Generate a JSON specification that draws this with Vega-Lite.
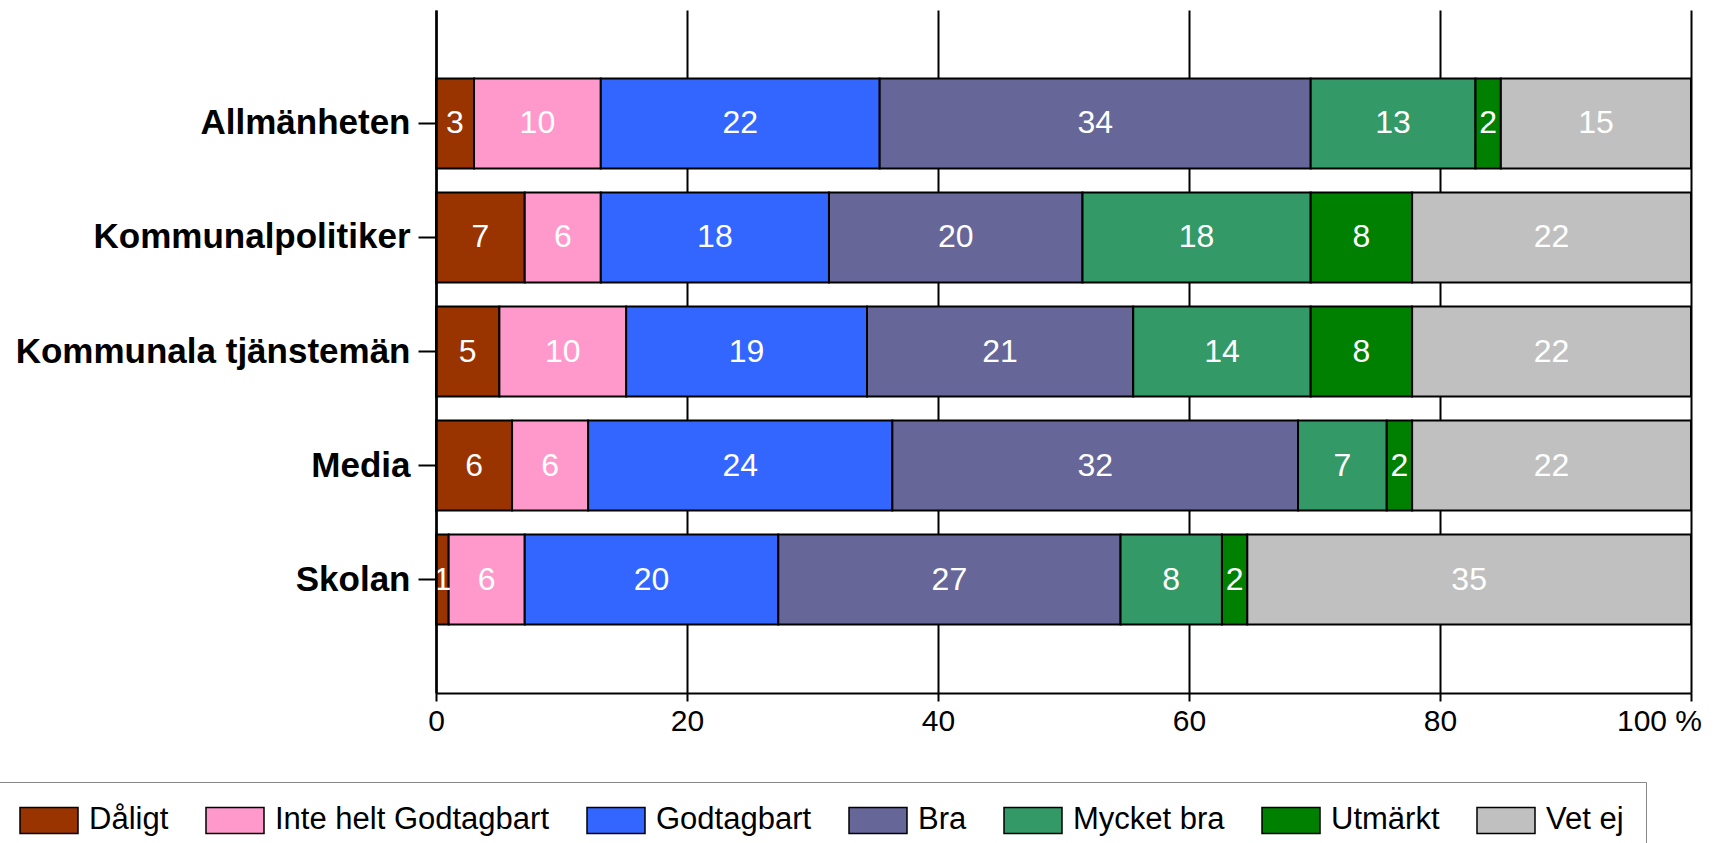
{
  "$schema": "https://vega.github.io/schema/vega-lite/v6.json",
  "autosize": "none",
  "width": 1255,
  "height": 683,
  "padding": {"left": 436, "top": 10, "right": 24, "bottom": 150},
  "background": "white",
  "config": {
    "view": {"stroke": null},
    "font": "Liberation Sans"
  },
  "data": {
    "values": [
      {"g": "Allmänheten", "c": "Dåligt", "v": 3, "k": 1},
      {"g": "Allmänheten", "c": "Inte helt Godtagbart", "v": 10, "k": 2},
      {"g": "Allmänheten", "c": "Godtagbart", "v": 22, "k": 3},
      {"g": "Allmänheten", "c": "Bra", "v": 34, "k": 4},
      {"g": "Allmänheten", "c": "Mycket bra", "v": 13, "k": 5},
      {"g": "Allmänheten", "c": "Utmärkt", "v": 2, "k": 6},
      {"g": "Allmänheten", "c": "Vet ej", "v": 15, "k": 7},
      {"g": "Kommunalpolitiker", "c": "Dåligt", "v": 7, "k": 1},
      {"g": "Kommunalpolitiker", "c": "Inte helt Godtagbart", "v": 6, "k": 2},
      {"g": "Kommunalpolitiker", "c": "Godtagbart", "v": 18, "k": 3},
      {"g": "Kommunalpolitiker", "c": "Bra", "v": 20, "k": 4},
      {"g": "Kommunalpolitiker", "c": "Mycket bra", "v": 18, "k": 5},
      {"g": "Kommunalpolitiker", "c": "Utmärkt", "v": 8, "k": 6},
      {"g": "Kommunalpolitiker", "c": "Vet ej", "v": 22, "k": 7},
      {"g": "Kommunala tjänstemän", "c": "Dåligt", "v": 5, "k": 1},
      {"g": "Kommunala tjänstemän", "c": "Inte helt Godtagbart", "v": 10, "k": 2},
      {"g": "Kommunala tjänstemän", "c": "Godtagbart", "v": 19, "k": 3},
      {"g": "Kommunala tjänstemän", "c": "Bra", "v": 21, "k": 4},
      {"g": "Kommunala tjänstemän", "c": "Mycket bra", "v": 14, "k": 5},
      {"g": "Kommunala tjänstemän", "c": "Utmärkt", "v": 8, "k": 6},
      {"g": "Kommunala tjänstemän", "c": "Vet ej", "v": 22, "k": 7},
      {"g": "Media", "c": "Dåligt", "v": 6, "k": 1},
      {"g": "Media", "c": "Inte helt Godtagbart", "v": 6, "k": 2},
      {"g": "Media", "c": "Godtagbart", "v": 24, "k": 3},
      {"g": "Media", "c": "Bra", "v": 32, "k": 4},
      {"g": "Media", "c": "Mycket bra", "v": 7, "k": 5},
      {"g": "Media", "c": "Utmärkt", "v": 2, "k": 6},
      {"g": "Media", "c": "Vet ej", "v": 22, "k": 7},
      {"g": "Skolan", "c": "Dåligt", "v": 1, "k": 1},
      {"g": "Skolan", "c": "Inte helt Godtagbart", "v": 6, "k": 2},
      {"g": "Skolan", "c": "Godtagbart", "v": 20, "k": 3},
      {"g": "Skolan", "c": "Bra", "v": 27, "k": 4},
      {"g": "Skolan", "c": "Mycket bra", "v": 8, "k": 5},
      {"g": "Skolan", "c": "Utmärkt", "v": 2, "k": 6},
      {"g": "Skolan", "c": "Vet ej", "v": 35, "k": 7}
    ]
  },
  "encoding": {
    "y": {
      "field": "g",
      "type": "nominal",
      "sort": ["Allmänheten", "Kommunalpolitiker", "Kommunala tjänstemän", "Media", "Skolan"],
      "scale": {"paddingInner": 0.21, "paddingOuter": 0.6},
      "axis": {
        "title": null,
        "labelFont": "Liberation Sans",
        "labelFontSize": 35,
        "labelFontWeight": "bold",
        "labelColor": "black",
        "labelLimit": 0,
        "labelPadding": 8,
        "tickSize": 18,
        "tickColor": "black",
        "tickWidth": 2,
        "domainColor": "black",
        "domainWidth": 2.5,
        "grid": false,
        "zindex": 1
      }
    },
    "x": {
      "field": "v",
      "type": "quantitative",
      "stack": "normalize",
      "scale": {"domain": [0, 1], "nice": false},
      "axis": {
        "title": null,
        "values": [0, 0.2, 0.4, 0.6, 0.8, 1],
        "labelExpr": "datum.value == 1 ? '100 %' : format(datum.value * 100, 'd')",
        "labelFont": "Liberation Sans",
        "labelFontSize": 30,
        "labelColor": "black",
        "labelPadding": 5,
        "labelFlush": false,
        "labelOffset": {"condition": {"test": "datum.value == 1", "value": -32}, "value": 0},
        "tickSize": 8,
        "tickColor": "black",
        "tickWidth": 2,
        "domainColor": "black",
        "domainWidth": 2,
        "grid": true,
        "gridColor": "black",
        "gridWidth": 2,
        "gridOpacity": 1
      }
    },
    "order": {"field": "k", "type": "quantitative"}
  },
  "layer": [
    {
      "mark": {"type": "bar", "stroke": "black", "strokeWidth": 2, "opacity": 1},
      "encoding": {
        "color": {
          "field": "c",
          "type": "nominal",
          "scale": {
            "domain": ["Dåligt", "Inte helt Godtagbart", "Godtagbart", "Bra", "Mycket bra", "Utmärkt", "Vet ej"],
            "range": ["#993300", "#FF99CC", "#3366FF", "#666699", "#339966", "#008000", "#C0C0C0"]
          },
          "legend": {
            "title": null,
            "orient": "none",
            "direction": "horizontal",
            "legendX": -438,
            "legendY": 772,
            "padding": 22,
            "strokeColor": "#888888",
            "symbolType": "M-1.0667,-0.867 L2.8,-0.867 L2.8,0.867 L-1.0667,0.867 Z",
            "symbolSize": 900,
            "symbolStrokeColor": "black",
            "symbolStrokeWidth": 1.5,
            "symbolOpacity": 1,
            "labelFont": "Liberation Sans",
            "labelFontSize": 31,
            "labelColor": "black",
            "labelOffset": 37,
            "labelLimit": 0,
            "columnPadding": 33
          }
        }
      }
    },
    {
      "mark": {"type": "text", "color": "white", "font": "Liberation Sans", "fontSize": 32, "baseline": "middle", "align": "center"},
      "encoding": {
        "x": {"field": "v", "type": "quantitative", "stack": "normalize", "bandPosition": 0.5},
        "detail": {"field": "c"},
        "text": {"field": "v", "type": "quantitative"}
      }
    }
  ]
}
